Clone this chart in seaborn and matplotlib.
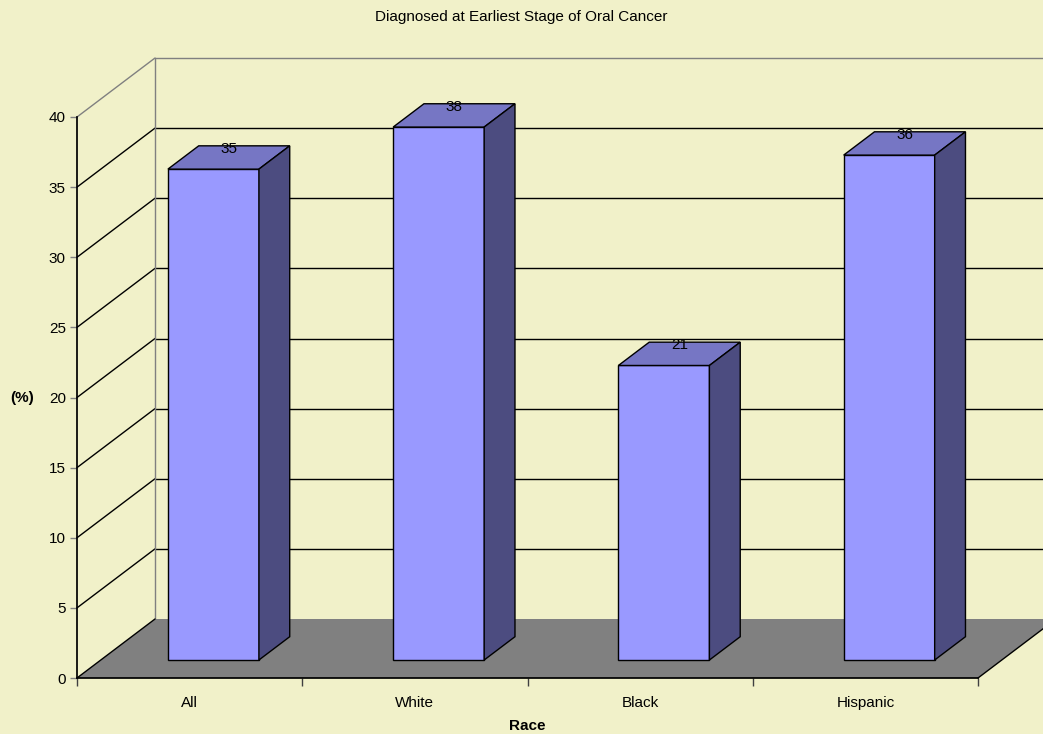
import pandas as pd
import seaborn as sns
import matplotlib.pyplot as plt
from matplotlib.patches import Polygon

# dados
races = ['All', 'White', 'Black', 'Hispanic']
pct = [35, 38, 21, 36]
y_ticks = [0, 5, 10, 15, 20, 25, 30, 35, 40]

df = pd.DataFrame({'Race': races, 'Pct': pct})

sns.set_theme(style='white')
plt.rcParams['font.family'] = ['Liberation Sans', 'DejaVu Sans']
plt.rcParams['text.color'] = 'black'
plt.rcParams['axes.labelcolor'] = 'black'
plt.rcParams['xtick.labelcolor'] = 'black'
plt.rcParams['ytick.labelcolor'] = 'black'

bg = '#F1F1C9'
fs = 11
fig = plt.figure(figsize=(10.43, 7.34), dpi=100, facecolor=bg)
ax = fig.add_axes([77/1043, 56/734, 901/1043, 561/734])
ax.set_facecolor('none')

sns.barplot(data=df, x='Race', y='Pct', color='#9999FF', saturation=1,
            width=0.404, edgecolor='black', linewidth=1, ax=ax, zorder=4)
ax.set_xlim(-0.5, 3.5)
ax.set_ylim(0, 40)

# profundidade do "3D" (em unidades dos dados)
dx = 78 / 225.25
dy = 59 / 14.025
f0, f1 = 0.305, 0.70

# paredes: grade na parede de trás e na lateral esquerda
x0, x1 = -0.5, 3.5
for v in y_ticks[1:]:
    c = '#808080' if v == 40 else 'black'
    ax.plot([x0, x0 + dx], [v, v + dy], color=c, lw=1, clip_on=False, zorder=1)
    ax.plot([x0 + dx, x1 + dx], [v + dy, v + dy], color=c, lw=1, clip_on=False, zorder=1)
ax.plot([x0 + dx, x0 + dx], [dy, 40 + dy], color='#808080', lw=1, clip_on=False, zorder=1)

# chão
floor = Polygon([(x0, 0), (x1, 0), (x1 + dx, dy), (x0 + dx, dy)], closed=True,
                facecolor='#808080', edgecolor='none', clip_on=False, zorder=2)
ax.add_patch(floor)
ax.plot([x1, x1 + dx], [0, dy], color='black', lw=1, clip_on=False, zorder=3)
ax.plot([x0, x0 + dx], [0, dy], color='black', lw=1, clip_on=False, zorder=3)

# barras em 3D
for p, v in zip(ax.patches, pct):
    if isinstance(p, Polygon):
        continue
    w = p.get_width()
    xl = p.get_x() + f0 * dx
    yb = f0 * dy
    p.set_x(xl)
    p.set_y(yb)
    p.set_height(v)
    ddx = (f1 - f0) * dx
    ddy = (f1 - f0) * dy
    top = Polygon([(xl, yb + v), (xl + w, yb + v), (xl + w + ddx, yb + v + ddy), (xl + ddx, yb + v + ddy)],
                  closed=True, facecolor='#7676C4', edgecolor='black', lw=1, clip_on=False, zorder=5)
    side = Polygon([(xl + w, yb), (xl + w + ddx, yb + ddy), (xl + w + ddx, yb + v + ddy), (xl + w, yb + v)],
                   closed=True, facecolor='#4C4C80', edgecolor='black', lw=1, clip_on=False, zorder=5)
    ax.add_patch(top)
    ax.add_patch(side)
    ax.text(xl + w / 2 + ddx / 2, yb + v + ddy / 2 + 0.6, str(v), ha='center', va='center',
            fontsize=fs, color='black', zorder=6, clip_on=False)

# eixos
for s in ['top', 'right']:
    ax.spines[s].set_visible(False)
ax.spines['left'].set_color('black')
ax.spines['bottom'].set_color('black')
ax.spines['left'].set_zorder(3)
ax.spines['bottom'].set_zorder(3)

ax.set_yticks(y_ticks)
ax.tick_params(axis='y', which='major', direction='out', length=5, width=1, color='#808080',
               labelsize=fs, pad=3, left=True)
ax.set_xticks(range(len(races)))
ax.set_xticklabels(races)
ax.set_xticks([-0.5, 0.5, 1.5, 2.5, 3.5], minor=True)
ax.tick_params(axis='x', which='major', length=0, labelsize=fs, pad=13)
ax.tick_params(axis='x', which='minor', direction='out', length=6, width=1, color='#404040', bottom=True)

ax.set_xlabel('Race', fontsize=fs, fontweight='bold')
ax.xaxis.set_label_coords(0.5, (56 - 726) / 561 + 0.0)
ax.set_ylabel('(%)', fontsize=fs, fontweight='bold', rotation=0, ha='center', va='center')
ax.yaxis.set_label_coords((22 - 77) / 901, (734 - 398 - 56) / 561)
ax.xaxis.label.set_va('center')
ax.xaxis.set_label_coords(0.5, (734 - 726 - 56) / 561)
fig.text(521/1043, 1 - 17/734, 'Diagnosed at Earliest Stage of Oral Cancer',
         ha='center', va='center', fontsize=fs)

plt.savefig('out.png', dpi=100, facecolor=bg)
